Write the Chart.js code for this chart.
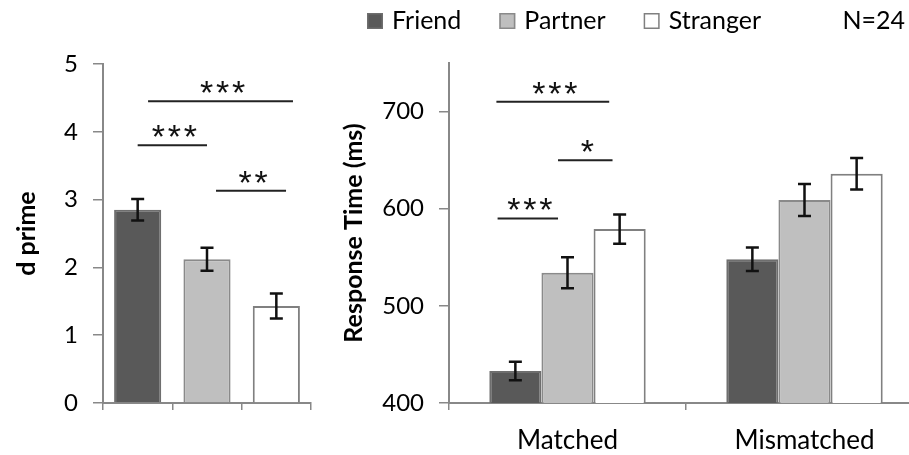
<!DOCTYPE html>
<html>
<head>
<meta charset="utf-8">
<script src="https://cdn.jsdelivr.net/npm/chart.js@4.4.0/dist/chart.umd.min.js"></script>
<style>
  html, body { margin: 0; padding: 0; background: #fff; overflow: hidden; }
  body { width: 909px; height: 455px; position: relative; }
  #wrapLeft { position: absolute; left: 0; top: 0; width: 330px; height: 455px; }
  #wrapRight { position: absolute; left: 330px; top: 0; width: 600px; height: 455px; }
</style>
</head>
<body>
<div id="wrapLeft"><canvas id="dprimeChart" width="330" height="455"></canvas></div>
<div id="wrapRight"><canvas id="rtChart" width="600" height="455"></canvas></div>
<script>
// data
const groups = ['Friend', 'Partner', 'Stranger'];
const dprime = [2.85, 2.12, 1.43];
const dprimeErr = [0.16, 0.17, 0.185];
const dprimeTicks = [0, 1, 2, 3, 4, 5];

const conditions = ['Matched', 'Mismatched'];
const rtFriend = [433, 548];
const rtPartner = [534, 609];
const rtStranger = [579, 636];
const rtFriendErr = [9.5, 12];
const rtPartnerErr = [16, 16.5];
const rtStrangerErr = [15, 16.2];
const rtTicks = [400, 500, 600, 700];

// significance bars (x in category units, y in axis units)
const dprimeSigFrom = [0.15, 0, 1.13];
const dprimeSigTo = [2.24, 1.0, 2.14];
const dprimeSigY = [4.45, 3.8, 3.13];
const dprimeSigText = ['***', '***', '**'];

const rtSigFrom = [-0.30, -0.04, -0.295];
const rtSigTo = [0.176, 0.19, -0.04];
const rtSigY = [710, 650, 590];
const rtSigText = ['***', '*', '***'];

const sampleNote = 'N=24';

const fills = ['#595959', '#bfbfbf', '#ffffff'];
const borders = ['#6e6e6e', '#8a8a8a', '#808080'];
const axisColor = '#888888';

Chart.defaults.font.family = 'Lato';
Chart.defaults.color = '#000';

const errorBars = {
    id: 'errorBars',
    afterDatasetsDraw(chart) {
        const ctx = chart.ctx;
        const y = chart.scales.y;
        chart.data.datasets.forEach((ds, di) => {
            const meta = chart.getDatasetMeta(di);
            meta.data.forEach((bar, i) => {
                const top = y.getPixelForValue(ds.data[i] + ds.errors[i]);
                const bot = y.getPixelForValue(ds.data[i] - ds.errors[i]);
                ctx.save();
                ctx.strokeStyle = '#111';
                ctx.lineWidth = 2.5;
                ctx.beginPath();
                ctx.moveTo(bar.x, top); ctx.lineTo(bar.x, bot);
                ctx.moveTo(bar.x - 6.5, top); ctx.lineTo(bar.x + 6.5, top);
                ctx.moveTo(bar.x - 6.5, bot); ctx.lineTo(bar.x + 6.5, bot);
                ctx.stroke();
                ctx.restore();
            });
        });
    }
};

const sigBars = {
    id: 'sig',
    afterDraw(chart, args, opts) {
        const ctx = chart.ctx;
        const x = chart.scales.x, y = chart.scales.y;
        ctx.save();
        ctx.font = '34px "Liberation Sans"';
        ctx.fillStyle = '#111';
        ctx.textAlign = 'center';
        ctx.textBaseline = 'alphabetic';
        const m = ctx.measureText('*');
        for (let i = 0; i < opts.text.length; i++) {
            const x0 = x.getPixelForValue(opts.from[i]);
            const x1 = x.getPixelForValue(opts.to[i]);
            const py = y.getPixelForValue(opts.y[i]);
            ctx.strokeStyle = '#222';
            ctx.lineWidth = 2;
            ctx.beginPath();
            ctx.moveTo(x0, py); ctx.lineTo(x1, py);
            ctx.stroke();
            // asterisks centred ~14px above the line
            const target = py - 14;
            const base = target - (m.actualBoundingBoxDescent - m.actualBoundingBoxAscent) / 2;
            const n = opts.text[i].length;
            const cx = (x0 + x1) / 2 + 2;
            for (let k = 0; k < n; k++) {
                ctx.fillText(opts.text[i][k], cx + (k - (n - 1) / 2) * 16, base);
            }
        }
        ctx.restore();
    }
};

const legendBox = {
    id: 'legendBox',
    afterDraw(chart) {
        const ctx = chart.ctx;
        ctx.save();
        ctx.font = '25px Lato';
        ctx.textBaseline = 'middle';
        let px = 37;
        chart.data.datasets.forEach(ds => {
            ctx.fillStyle = ds.backgroundColor;
            ctx.fillRect(px, 13, 16, 16);
            ctx.strokeStyle = ds.borderColor;
            ctx.lineWidth = 1.5;
            ctx.strokeRect(px + 0.75, 13.75, 14.5, 14.5);
            ctx.fillStyle = '#000';
            ctx.textAlign = 'left';
            ctx.fillText(ds.label, px + 25, 21);
            px += 25 + ctx.measureText(ds.label).width + 38;
        });
        ctx.textAlign = 'right';
        ctx.fillText(sampleNote, 575, 21);
        ctx.restore();
    }
};

new Chart(document.getElementById('dprimeChart'), {
    type: 'bar',
    data: {
        labels: groups,
        datasets: [{
            label: 'd prime',
            data: dprime,
            errors: dprimeErr,
            backgroundColor: fills,
            borderColor: borders,
            borderWidth: 2,
            barPercentage: 0.68,
            categoryPercentage: 1
        }]
    },
    options: {
        responsive: false,
        animation: false,
        layout: { padding: { top: 64, right: 19, left: 0, bottom: 0 } },
        plugins: {
            legend: { display: false },
            tooltip: { enabled: false },
            sig: { from: dprimeSigFrom, to: dprimeSigTo, y: dprimeSigY, text: dprimeSigText }
        },
        scales: {
            x: {
                z: 1,
                grid: { drawOnChartArea: false, tickLength: 7, color: axisColor, lineWidth: 1.5 },
                border: { color: axisColor, width: 2 },
                ticks: { display: false },
                afterFit: s => { s.height = 52; }
            },
            y: {
                min: 0,
                max: 5,
                afterBuildTicks: s => { s.ticks = dprimeTicks.map(v => ({ value: v })); },
                grid: { drawOnChartArea: false, tickLength: 10, color: axisColor, lineWidth: 1.5 },
                border: { color: axisColor, width: 2 },
                ticks: { padding: 15, font: { size: 24 } },
                title: { display: true, text: 'd prime', font: { size: 25, weight: 'bold' }, padding: { top: 12 } },
                afterFit: s => { s.width = 103; }
            }
        }
    },
    plugins: [errorBars, sigBars]
});

const rtSets = [rtFriend, rtPartner, rtStranger];
const rtErrs = [rtFriendErr, rtPartnerErr, rtStrangerErr];

new Chart(document.getElementById('rtChart'), {
    type: 'bar',
    data: {
        labels: conditions,
        datasets: groups.map((g, i) => ({
            label: g,
            data: rtSets[i],
            errors: rtErrs[i],
            backgroundColor: fills[i],
            borderColor: borders[i],
            borderWidth: 2,
            barPercentage: 1,
            categoryPercentage: 0.66
        }))
    },
    options: {
        responsive: false,
        animation: false,
        layout: { padding: { top: 63, right: 7, left: 0, bottom: 0 } },
        plugins: {
            legend: { display: false },
            tooltip: { enabled: false },
            sig: { from: rtSigFrom, to: rtSigTo, y: rtSigY, text: rtSigText }
        },
        scales: {
            x: {
                z: 1,
                grid: { drawOnChartArea: false, tickLength: 7, color: axisColor, lineWidth: 1.5 },
                border: { color: axisColor, width: 2 },
                ticks: { padding: 15, font: { size: 26 } },
                afterFit: s => { s.height = 52; }
            },
            y: {
                min: 400,
                max: 750,
                afterBuildTicks: s => { s.ticks = rtTicks.map(v => ({ value: v })); },
                grid: { drawOnChartArea: false, tickLength: 10, color: axisColor, lineWidth: 1.5 },
                border: { color: axisColor, width: 2 },
                ticks: { padding: 15, font: { size: 24 } },
                title: { display: true, text: 'Response Time (ms)', font: { size: 25, weight: 'bold' }, padding: { top: 9 } },
                afterFit: s => { s.width = 119; }
            }
        }
    },
    plugins: [errorBars, sigBars, legendBox]
});
</script>
</body>
</html>
